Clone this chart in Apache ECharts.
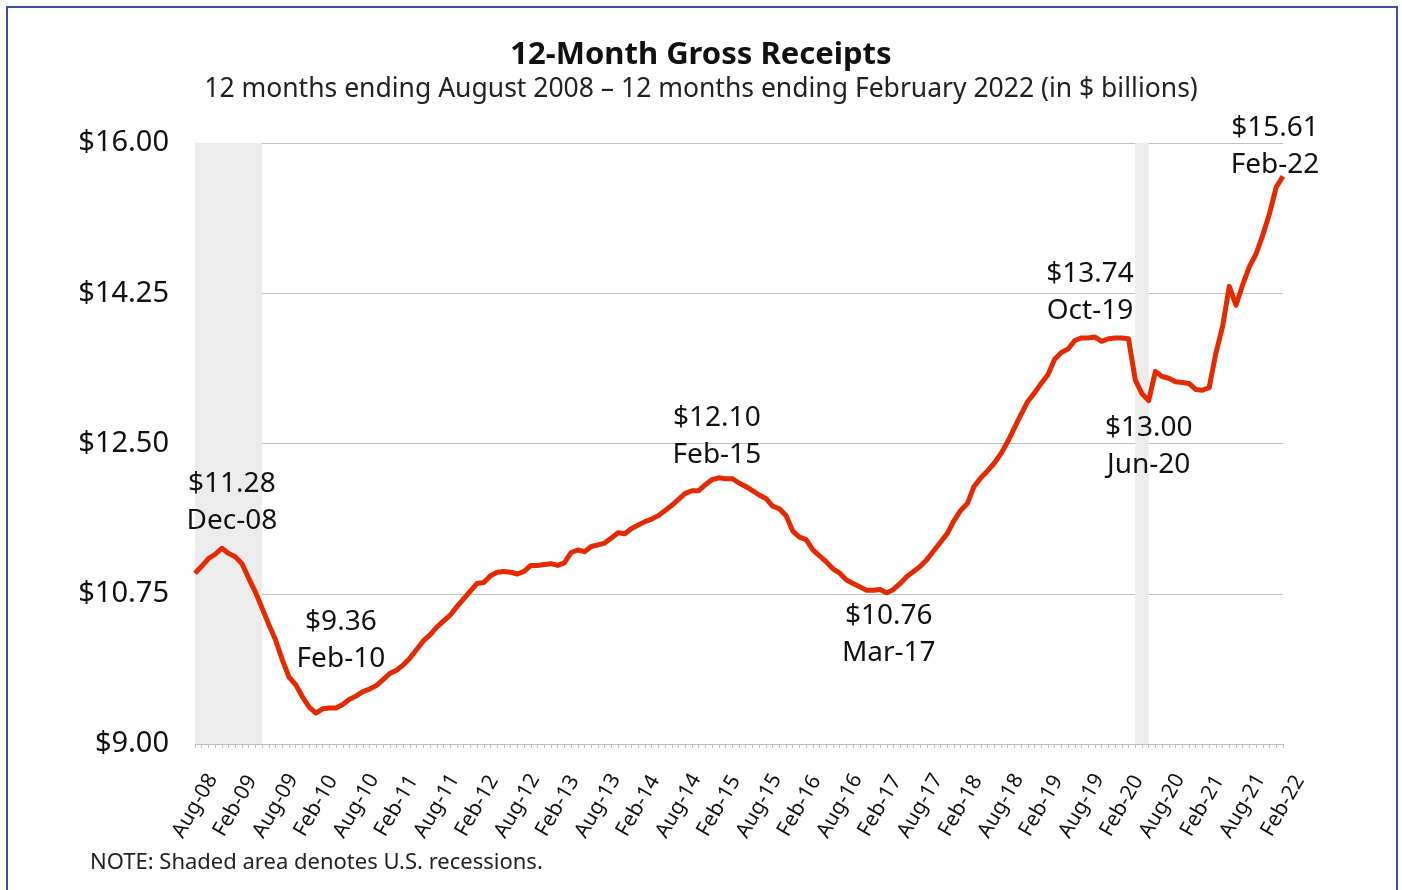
<!DOCTYPE html>
<html>
<head>
<meta charset="utf-8">
<script src="https://cdn.jsdelivr.net/npm/echarts@6/dist/echarts.min.js"></script>
<style>
  html, body { margin: 0; padding: 0; background: #fff; }
  #chart { width: 1402px; height: 890px; }
</style>
</head>
<body>
<div id="chart"></div>
<script>
const FONT = "Noto Sans";
const LINE_RED = "#e42a00";

// months Aug-08 .. Feb-22
const monthNames = ["Jan", "Feb", "Mar", "Apr", "May", "Jun", "Jul", "Aug", "Sep", "Oct", "Nov", "Dec"];
const categories = [];
for (let k = 0; k < 163; k++) {
  const m = (7 + k) % 12;
  const y = 8 + Math.floor((7 + k) / 12);
  categories.push(monthNames[m] + "-" + String(y).padStart(2, "0"));
}

// 12-month gross receipts, $ billions
const receipts = [
  10.99, 11.07, 11.16, 11.21, 11.28, 11.22, 11.18, 11.10, 10.93, 10.77,
  10.58, 10.39, 10.21, 9.98, 9.78, 9.69, 9.55, 9.43, 9.36, 9.41,
  9.42, 9.42, 9.46, 9.52, 9.56, 9.61, 9.64, 9.68, 9.75, 9.82,
  9.86, 9.92, 10.00, 10.10, 10.20, 10.27, 10.36, 10.43, 10.50, 10.60,
  10.69, 10.78, 10.87, 10.88, 10.96, 11.00, 11.01, 11.00, 10.98, 11.01,
  11.08, 11.08, 11.09, 11.10, 11.08, 11.11, 11.23, 11.26, 11.24, 11.30,
  11.32, 11.34, 11.40, 11.46, 11.45, 11.51, 11.55, 11.59, 11.62, 11.66,
  11.72, 11.78, 11.85, 11.92, 11.95, 11.95, 12.02, 12.08, 12.10, 12.09,
  12.09, 12.04, 12.00, 11.95, 11.90, 11.86, 11.77, 11.74, 11.66, 11.48,
  11.41, 11.38, 11.26, 11.19, 11.12, 11.04, 10.99, 10.91, 10.87, 10.83,
  10.79, 10.79, 10.80, 10.76, 10.80, 10.87, 10.95, 11.01, 11.07, 11.15,
  11.25, 11.35, 11.45, 11.60, 11.72, 11.80, 12.00, 12.10, 12.18, 12.27,
  12.38, 12.52, 12.68, 12.84, 12.99, 13.09, 13.20, 13.30, 13.48, 13.56,
  13.60, 13.70, 13.73, 13.73, 13.74, 13.69, 13.72, 13.73, 13.73, 13.72,
  13.24, 13.08, 13.00, 13.34, 13.28, 13.26, 13.22, 13.21, 13.20, 13.13,
  13.12, 13.15, 13.55, 13.86, 14.33, 14.11, 14.35, 14.56, 14.71, 14.93,
  15.18, 15.49, 15.61
];

// annotated points: category, label offset from the point
const callouts = ["Dec-08", "Feb-10", "Feb-15", "Mar-17", "Oct-19", "Jun-20", "Feb-22"];
const calloutOffsets = {
  "Dec-08": [10, -46],
  "Feb-10": [25, -73],
  "Feb-15": [-2, -41],
  "Mar-17": [2, 42],
  "Oct-19": [-5, -45],
  "Jun-20": [0, 46],
  "Feb-22": [-8, -30]
};

// U.S. recessions (shaded)
const recessions = [
  ["Aug-08", "Jun-09"],
  ["Apr-20", "Jun-20"]
];

const yTicks = [9, 10.75, 12.5, 14.25, 16];

const calloutPoints = callouts.map((c) => {
  const v = receipts[categories.indexOf(c)];
  return {
    coord: [c, v],
    label: {
      offset: calloutOffsets[c],
      formatter: "$" + v.toFixed(2) + "\n" + c
    }
  };
});

const chart = echarts.init(document.getElementById("chart"));

chart.setOption({
  animation: false,
  backgroundColor: "#fff",
  title: {
    text: "12-Month Gross Receipts",
    subtext: "12 months ending August 2008 \u2013 12 months ending February 2022 (in $ billions)",
    left: "center",
    top: 35,
    itemGap: 5,
    textStyle: { fontFamily: FONT, fontSize: 31, fontWeight: "bold", color: "#111" },
    subtextStyle: { fontFamily: FONT, fontSize: 26.5, color: "#222" }
  },
  graphic: [
    {
      type: "rect",
      shape: { x: 7, y: 7, width: 1390, height: 900 },
      style: { fill: "none", stroke: "#3b4f9e", lineWidth: 2 },
      silent: true
    },
    {
      type: "text",
      left: 90,
      top: 852,
      style: {
        text: "NOTE: Shaded area denotes U.S. recessions.",
        font: "22px " + FONT,
        fill: "#222"
      }
    }
  ],
  grid: { left: 195, right: 119, top: 143, bottom: 146 },
  xAxis: {
    type: "category",
    data: categories,
    boundaryGap: false,
    axisLine: { lineStyle: { color: "#bfbfbf", width: 1 } },
    axisTick: { show: true, interval: 0, length: 4, lineStyle: { color: "#bfbfbf" } },
    axisLabel: {
      interval: 5,
      rotate: 60,
      align: "center",
      verticalAlign: "middle",
      margin: 62,
      fontFamily: FONT,
      fontSize: 21,
      color: "#111"
    },
    splitLine: { show: false }
  },
  yAxis: {
    type: "value",
    min: 9,
    max: 16,
    interval: 1.75,
    axisLine: { show: true, lineStyle: { color: "#bfbfbf" } },
    axisTick: { show: false },
    axisLabel: {
      margin: 26,
      fontFamily: FONT,
      fontSize: 29,
      color: "#111",
      formatter: (v) => "$" + v.toFixed(2),
      customValues: yTicks
    },
    splitLine: { lineStyle: { color: "#bfbfbf", width: 1 } }
  },
  series: [
    {
      type: "line",
      data: receipts,
      symbol: "none",
      smooth: false,
      lineStyle: { color: LINE_RED, width: 5, join: "round" },
      z: 3,
      markArea: {
        silent: true,
        itemStyle: { color: "#ececec" },
        data: recessions.map((r) => [{ xAxis: r[0] }, { xAxis: r[1] }])
      },
      markPoint: {
        silent: true,
        symbol: "circle",
        symbolSize: 1,
        itemStyle: { color: "rgba(0,0,0,0)" },
        label: {
          show: true,
          position: "inside",
          fontFamily: FONT,
          fontSize: 28,
          lineHeight: 37,
          color: "#111",
          align: "center"
        },
        data: calloutPoints
      }
    }
  ]
});
</script>
</body>
</html>
